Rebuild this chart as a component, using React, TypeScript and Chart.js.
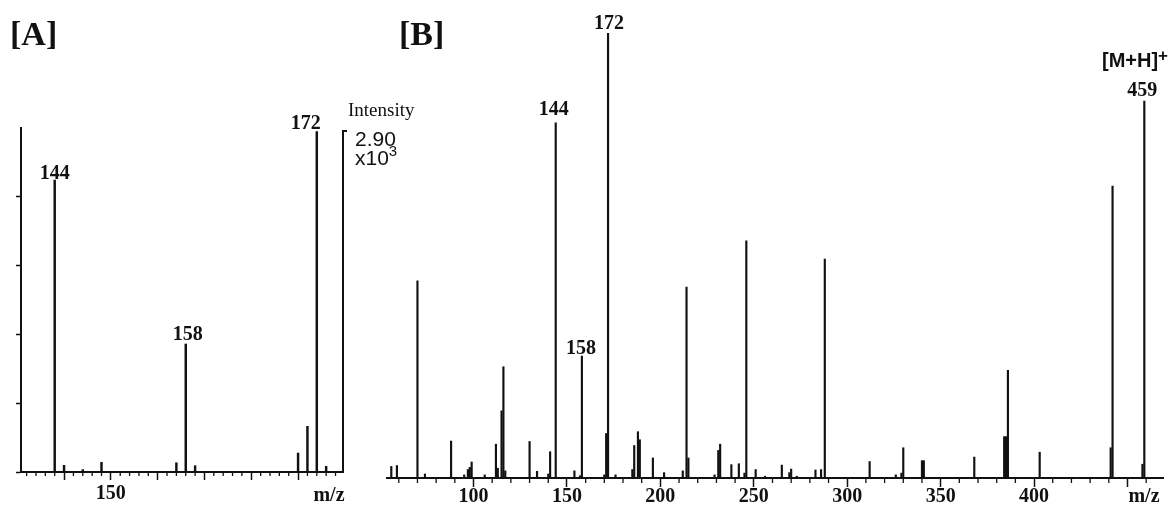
import React, { useEffect, useRef } from 'react';
import { Chart, registerables } from 'chart.js';

Chart.register(...registerables);

// ---------------- Panel A (zoomed m/z 140-175) ----------------
const panelAMz = [144, 145, 147, 149, 157, 158, 159, 170, 171, 172, 173];
const panelAIntensity = [2462, 56, 20, 82, 78, 1079, 53, 160, 385, 2870, 48];
const panelARange = [140.4, 174.8];
const panelAIntensityMax = 2900;
const panelAIntensityStep = 580;
const panelAMajorStep = 5;
const panelAMinorStep = 1;
const panelATickLabels = ['150'];
const panelAPeakLabels = ['144', '158', '172'];

// ---------------- Panel B (full spectrum) ----------------
const panelBMz = [
  56, 59, 70, 74, 88, 95, 97, 98, 99, 106, 112, 113, 115, 116, 117, 130, 134, 140, 141, 144,
  154, 157, 158, 170, 171, 172, 176, 185, 186, 188, 189, 196, 202, 212, 214, 215, 229, 231,
  232, 238, 242, 245, 246, 251, 256, 265, 269, 270, 273, 283, 286, 288, 312, 326, 329, 330,
  340, 341, 368, 384, 385, 386, 403, 441, 442, 458, 459,
];
const panelBIntensity = [
  2.6, 2.8, 44.3, 0.9, 8.3, 0.7, 1.9, 2.4, 3.6, 0.7, 7.6, 2.2, 15.1, 25.0, 1.6, 8.2, 1.5, 0.9, 5.9, 79.8,
  1.6, 0.5, 27.4, 0.7, 10.0, 100, 0.7, 1.9, 7.3, 10.4, 8.6, 4.5, 1.2, 1.6, 42.9, 4.5, 0.7, 6.2,
  7.6, 3.0, 3.2, 1.1, 53.3, 1.9, 0.4, 2.9, 1.2, 2.0, 0.4, 1.8, 1.9, 49.2, 3.7, 0.7, 1.1, 6.8,
  3.9, 3.9, 4.7, 9.3, 9.3, 24.2, 5.8, 6.8, 65.6, 3.1, 84.7,
];
const panelBRange = [53.7, 469];
const panelBIntensityMax = 100;
const panelBMajorStep = 50;
const panelBMinorStep = 10;
const panelBTickLabels = ['100', '150', '200', '250', '300', '350', '400'];
const panelBPeakLabels = ['144', '158', '172', '459'];

// ---------------- Text ----------------
const panelTitles = ['[A]', '[B]'];
const axisTitle = 'm/z';
const intensityTitle = 'Intensity';
const intensityScaleText = ['2.90', 'x10', '3'];
const precursorText = ['[M+H]', '+'];

// ---------------- Styles ----------------
const SERIF = '"Liberation Serif", "Times New Roman", serif';
const SANS = '"Liberation Sans", Arial, sans-serif';
const INK = '#111111';
const labelNudgeA: Record<string, [number, number]> = { '144': [0, 1], '158': [2, 4], '172': [-11, 3] };
const labelNudgeB: Record<string, [number, number]> = { '144': [-2, 8], '158': [-1, 2], '172': [1, 4], '459': [-2, 5] };

function drawMinorTicks(chart: any, step: number, major: number, len: number) {
  const { ctx, chartArea: ca } = chart;
  const x = chart.scales.x;
  ctx.save();
  ctx.strokeStyle = INK;
  ctx.lineWidth = 1.3;
  for (let v = Math.ceil(x.min / step) * step; v <= x.max; v += step) {
    if (Math.abs(v % major) < 1e-6) continue;
    const px = x.getPixelForValue(v);
    ctx.beginPath();
    ctx.moveTo(px, ca.bottom);
    ctx.lineTo(px, ca.bottom + len);
    ctx.stroke();
  }
  ctx.restore();
}

function drawPeakLabels(chart: any, labels: string[], mzs: number[], vals: number[], nudge: Record<string, [number, number]>) {
  const { ctx } = chart;
  const x = chart.scales.x;
  const y = chart.scales.y;
  ctx.save();
  ctx.fillStyle = INK;
  ctx.font = `bold 20px ${SERIF}`;
  ctx.textAlign = 'center';
  ctx.textBaseline = 'alphabetic';
  labels.forEach((t) => {
    const mz = Number(t);
    const i = mzs.indexOf(mz);
    if (i < 0) return;
    const [dx, dy] = nudge[t] || [0, 3];
    ctx.fillText(t, x.getPixelForValue(mz) + dx, y.getPixelForValue(vals[i]) - dy);
  });
  ctx.restore();
}

const panelAPlugin = {
  id: 'panelAExtras',
  afterDraw(chart: any) {
    const { ctx, chartArea: ca } = chart;
    const y = chart.scales.y;
    drawMinorTicks(chart, panelAMinorStep, panelAMajorStep, 4);
    // right-hand intensity bar
    ctx.save();
    ctx.strokeStyle = INK;
    ctx.lineWidth = 2;
    const top = y.getPixelForValue(panelAIntensityMax) + 3;
    ctx.beginPath();
    ctx.moveTo(ca.right + 4, top);
    ctx.lineTo(ca.right, top);
    ctx.lineTo(ca.right, ca.bottom);
    ctx.stroke();
    ctx.restore();
    drawPeakLabels(chart, panelAPeakLabels, panelAMz, panelAIntensity, labelNudgeA);
    ctx.save();
    ctx.fillStyle = INK;
    ctx.textBaseline = 'alphabetic';
    ctx.textAlign = 'left';
    ctx.font = `bold 34px ${SERIF}`;
    ctx.fillText(panelTitles[0], 10, 45);
    ctx.font = `19px ${SERIF}`;
    ctx.fillText(intensityTitle, 348, 116);
    ctx.font = `21px ${SANS}`;
    ctx.fillText(intensityScaleText[0], 355, 146);
    ctx.fillText(intensityScaleText[1], 355, 165);
    const w = ctx.measureText(intensityScaleText[1]).width;
    ctx.font = `15px ${SANS}`;
    ctx.fillText(intensityScaleText[2], 355 + w, 156);
    ctx.font = `bold 20px ${SERIF}`;
    ctx.textAlign = 'center';
    ctx.fillText(axisTitle, 329, 501);
    ctx.restore();
  },
};

const panelBPlugin = {
  id: 'panelBExtras',
  afterDraw(chart: any) {
    const { ctx } = chart;
    drawMinorTicks(chart, panelBMinorStep, panelBMajorStep, 5);
    drawPeakLabels(chart, panelBPeakLabels, panelBMz, panelBIntensity, labelNudgeB);
    ctx.save();
    ctx.fillStyle = INK;
    ctx.textBaseline = 'alphabetic';
    ctx.textAlign = 'left';
    ctx.font = `bold 34px ${SERIF}`;
    ctx.fillText(panelTitles[1], 19, 45);
    ctx.font = `bold 20px ${SANS}`;
    ctx.fillText(precursorText[0], 722, 67);
    const w = ctx.measureText(precursorText[0]).width;
    ctx.font = `bold 17px ${SANS}`;
    ctx.fillText(precursorText[1], 722 + w, 61);
    ctx.font = `bold 20px ${SERIF}`;
    ctx.textAlign = 'center';
    ctx.fillText(axisTitle, 764, 502);
    ctx.restore();
  },
};

function tickCallback(labels: string[]) {
  return (v: any) => (labels.includes(String(v)) ? String(v) : '');
}

function makeA(canvas: HTMLCanvasElement) {
  return new Chart(canvas, {
    type: 'bar',
    data: {
      datasets: [
        {
          data: panelAMz.map((m, i) => ({ x: m, y: panelAIntensity[i] })),
          backgroundColor: INK,
          borderWidth: 0,
          barThickness: 1.8,
        },
      ],
    },
    options: {
      animation: false,
      responsive: false,
      devicePixelRatio: 1,
      events: [],
      layout: { padding: { top: 128, right: 87, left: 0, bottom: 0 } },
      plugins: { legend: { display: false }, tooltip: { enabled: false } },
      scales: {
        x: {
          type: 'linear',
          min: panelARange[0],
          max: panelARange[1],
          offset: false,
          afterFit: (s: any) => { s.height = 35; },
          border: { display: true, color: INK, width: 2 },
          grid: { display: true, drawOnChartArea: false, drawTicks: true, tickLength: 8, tickWidth: 1.5, tickColor: INK, offset: false },
          ticks: {
            stepSize: panelAMajorStep,
            includeBounds: false,
            autoSkip: false,
            maxRotation: 0,
            padding: 2,
            color: INK,
            font: { family: SERIF, weight: 'bold', size: 20 },
            callback: tickCallback(panelATickLabels),
          },
        },
        y: {
          type: 'linear',
          min: 0,
          max: panelAIntensityMax,
          afterFit: (s: any) => { s.width = 21; },
          border: { display: true, color: INK, width: 2 },
          grid: {
            display: true,
            drawOnChartArea: false,
            drawTicks: true,
            tickLength: 5,
            tickWidth: 1.5,
            tickColor: (c: any) => (c.tick && c.tick.value >= panelAIntensityMax ? 'rgba(0,0,0,0)' : INK),
          },
          ticks: { stepSize: panelAIntensityStep, callback: () => '', padding: 0 },
        },
      },
    } as any,
    plugins: [panelAPlugin],
  });
}

function makeB(canvas: HTMLCanvasElement) {
  return new Chart(canvas, {
    type: 'bar',
    data: {
      datasets: [
        {
          data: panelBMz.map((m, i) => ({ x: m, y: panelBIntensity[i] })),
          backgroundColor: INK,
          borderWidth: 0,
          barThickness: 1.5,
        },
      ],
    },
    options: {
      animation: false,
      responsive: false,
      devicePixelRatio: 1,
      events: [],
      layout: { padding: { top: 33, right: 6, left: 7, bottom: 0 } },
      plugins: { legend: { display: false }, tooltip: { enabled: false } },
      scales: {
        x: {
          type: 'linear',
          min: panelBRange[0],
          max: panelBRange[1],
          offset: false,
          afterFit: (s: any) => { s.height = 29; },
          border: { display: true, color: INK, width: 2 },
          grid: { display: true, drawOnChartArea: false, drawTicks: true, tickLength: 9, tickWidth: 1.5, tickColor: INK, offset: false },
          ticks: {
            stepSize: panelBMajorStep,
            includeBounds: false,
            autoSkip: false,
            maxRotation: 0,
            padding: -2,
            color: INK,
            font: { family: SERIF, weight: 'bold', size: 20 },
            callback: tickCallback(panelBTickLabels),
          },
        },
        y: { type: 'linear', display: false, min: 0, max: panelBIntensityMax },
      },
    } as any,
    plugins: [panelBPlugin],
  });
}

export default function App() {
  const refA = useRef<HTMLCanvasElement | null>(null);
  const refB = useRef<HTMLCanvasElement | null>(null);

  useEffect(() => {
    const a = refA.current ? makeA(refA.current) : null;
    const b = refB.current ? makeB(refB.current) : null;
    return () => {
      if (a) a.destroy();
      if (b) b.destroy();
    };
  }, []);

  return (
    <div style={{ position: 'absolute', left: 0, top: 0, width: 1169, height: 507, background: '#fff', overflow: 'hidden' }}>
      <canvas ref={refA} width={430} height={507} style={{ position: 'absolute', left: 0, top: 0, width: 430, height: 507 }} />
      <canvas ref={refB} width={789} height={507} style={{ position: 'absolute', left: 380, top: 0, width: 789, height: 507 }} />
    </div>
  );
}
